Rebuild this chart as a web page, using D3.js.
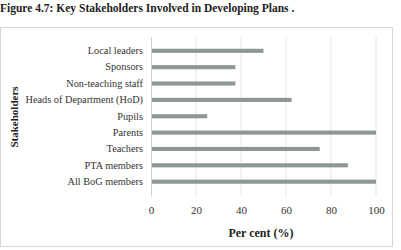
<!DOCTYPE html>
<html><head><meta charset="utf-8">
<script src="https://cdn.jsdelivr.net/npm/d3@7"></script>
<style>body{margin:0;background:#fff}svg{display:block}
text{font-family:"Liberation Serif","Times New Roman",Times,"DejaVu Serif",serif}</style>
</head><body>
<script>
const categories = ["Local leaders","Sponsors","Non-teaching staff","Heads of Department (HoD)","Pupils","Parents","Teachers","PTA members","All BoG members"];
const values = [50,37.5,37.5,62.5,25,100,75,87.5,100];
const ticks = [0,20,40,60,80,100];
const title = "Figure 4.7: Key Stakeholders Involved in Developing Plans .";
const xTitle = "Per cent (%)";
const yTitle = "Stakeholders";

const W=401,H=250;
const svg=d3.select("body").append("svg").attr("width",W).attr("height",H);
const serif='"Liberation Serif","Times New Roman",Times,serif';

svg.append("text").attr("x",0).attr("y",12).style("font-family",serif).attr("font-weight","bold")
  .attr("font-size",11.5).attr("fill","#222").text(title);

// frame
svg.append("rect").attr("x",0.5).attr("y",27.5).attr("width",392).attr("height",219)
  .attr("fill","none").attr("stroke","#d6d6d6");

const x=d3.scaleLinear().domain([0,100]).range([151,376]);
const y=d3.scaleBand().domain(categories).range([36.5,196]).padding(0.75);

// gridlines
svg.append("g").selectAll("line").data(ticks.slice(1)).join("line")
  .attr("x1",d=>x(d)).attr("x2",d=>x(d)).attr("y1",37).attr("y2",196)
  .attr("stroke","#e6e6e6").attr("stroke-width",1);

svg.append("g").selectAll("rect").data(values).join("rect")
  .attr("x",x(0)).attr("y",(d,i)=>y(categories[i])).attr("width",d=>x(d)-x(0))
  .attr("height",y.bandwidth()).attr("fill","#8e9696");

// y axis
const ya=svg.append("g").attr("transform",`translate(${x(0)},0)`).call(d3.axisLeft(y).tickSize(0).tickPadding(8));
ya.select(".domain").attr("stroke","#cfcfcf");
ya.selectAll("text").style("font-family",serif).attr("font-size",10.3).attr("fill","#333");

// x axis
const xa=svg.append("g").attr("transform","translate(0,196)").call(d3.axisBottom(x).tickValues(ticks).tickSize(0).tickPadding(10));
xa.select(".domain").remove();
xa.selectAll("text").style("font-family",serif).attr("font-size",11).attr("fill","#333");

svg.append("text").attr("x",261).attr("y",237).attr("text-anchor","middle")
  .style("font-family",serif).attr("font-weight","bold").attr("font-size",12).attr("fill","#222").text(xTitle);
svg.append("text").attr("transform","translate(18,117) rotate(-90)").attr("text-anchor","middle")
  .style("font-family",serif).attr("font-weight","bold").attr("font-size",11).attr("fill","#222").text(yTitle);
</script>
</body></html>
